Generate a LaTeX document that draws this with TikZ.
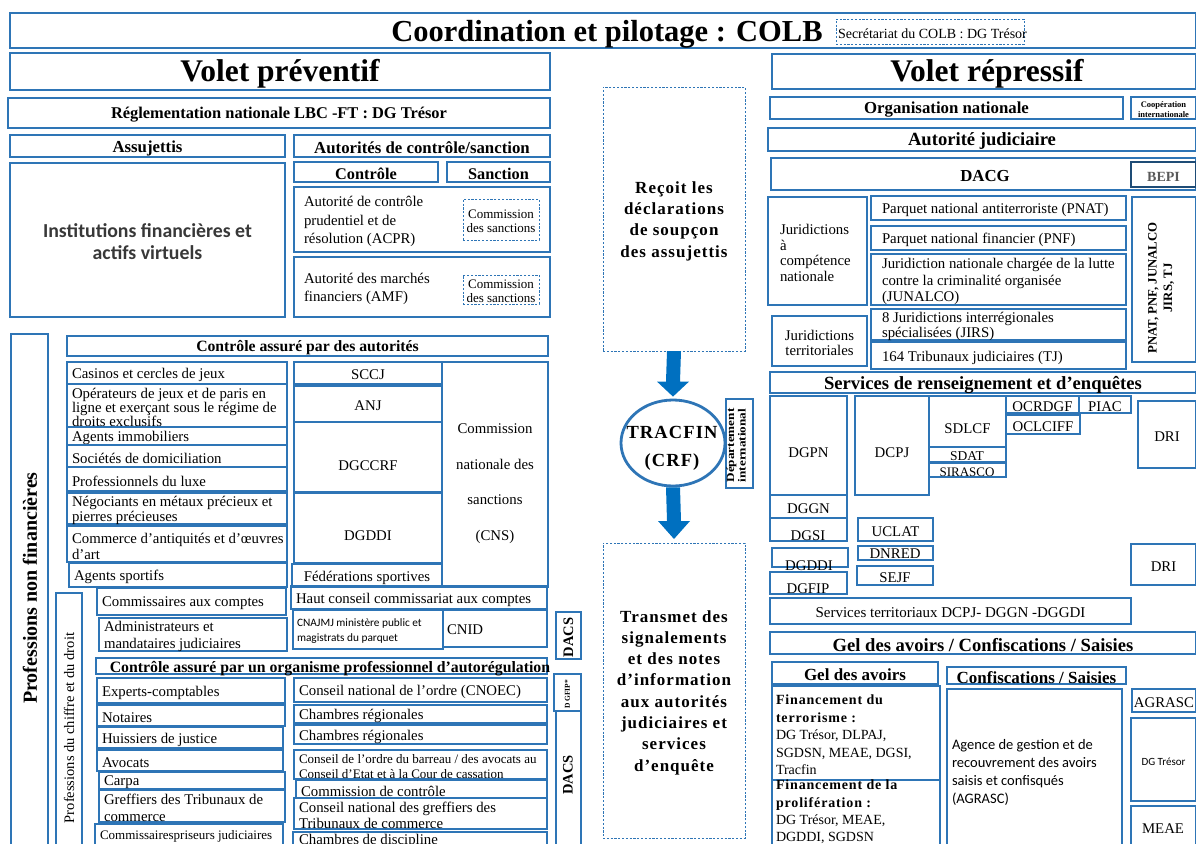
\documentclass[tikz,border=0pt]{standalone}
\usepackage{fontspec}
\setmainfont{Liberation Serif}
\newfontfamily\sprd[LetterSpace=6.0]{Liberation Serif}
\newfontfamily\calib{Carlito}
\usepackage{graphicx}
\usetikzlibrary{shapes.geometric,calc}
\definecolor{bl}{RGB}{46,117,182}
\definecolor{abl}{RGB}{0,112,192}
\newcommand\fs[2]{\fontsize{#1}{#2}\selectfont}
\newcommand\mkbox[6]{%
  \pgfmathsetmacro\bxw{#5-#3}\pgfmathsetmacro\bxh{#6-#4}%
  \pgfmathsetmacro\bxx{(#3+#5)/2}\pgfmathsetmacro\bxy{(#4+#6)/2}%
  \node[#1,minimum width=\bxw pt,minimum height=\bxh pt] (#2) at (\bxx,\bxy) {};}
\newcommand\bx[7][]{\mkbox{bxs}{#2}{#3}{#4}{#5}{#6}\node[txt,#1] (#2-t) at (#2.center) {#7};}
\newcommand\dbx[7][]{\mkbox{dbxs}{#2}{#3}{#4}{#5}{#6}\node[txt,#1] (#2-t) at (#2.center) {#7};}
\newcommand\bxl[7][]{\mkbox{bxs}{#2}{#3}{#4}{#5}{#6}\node[txt,anchor=west,align=left,#1] (#2-t) at ([xshift=5pt]#2.west) {#7};}
\tikzset{
  bxs/.style={rectangle,draw=bl,line width=1.3pt,inner sep=0pt,outer sep=0pt},
  dbxs/.style={bxs,line width=0.9pt,dash pattern=on 2.2pt off 1.6pt},
  bepis/.style={bxs,draw=bl!65!black,line width=1.8pt},
  txt/.style={inner sep=0pt,outer sep=0pt,align=center,yshift=-2pt,font=\fs{14.8}{16.5}},
  h17/.style={font=\bfseries\fs{16.8}{19}},
  h19/.style={font=\bfseries\fs{18.6}{20}},
  hv/.style={font=\bfseries\fs{31.5}{33}},
}
\begin{document}
\begin{tikzpicture}[x=1pt,y=-1pt]
\useasboundingbox (0,0) rectangle (1196,843);
\clip (0,0) rectangle (1196,843);
% ===== top
\bx{title}{10}{13}{1196}{48}{}
\node[txt,font=\bfseries\fs{30.5}{32}] (title-txt) at (607,32) {Coordination et pilotage : COLB};
\mkbox{dbxs}{secr}{836}{19}{1024}{44}
\node[txt,anchor=west,font=\fs{14}{15}] (secr-t) at ([xshift=2pt]secr.west) {Secrétariat du COLB : DG Trésor};
% ===== volet preventif
\bx[hv]{vp}{10}{53}{550}{90}{Volet préventif}
\bx[font=\bfseries\fs{16.4}{18}]{regl}{8}{98}{550}{128}{Réglementation nationale LBC -FT : DG Trésor}
\bx[h17]{assj}{10}{135}{285}{157}{Assujettis}
\bx[h17]{autc}{294}{135}{550}{157}{Autorités de contrôle/sanction}
\bx[font=\bfseries\fs{16.3}{18}]{ctrl}{294}{162}{438}{182}{Contrôle}
\bx[font=\bfseries\fs{16.3}{18}]{sanc}{447}{162}{550}{182}{Sanction}
\bx[font=\calib\bfseries\fs{19.8}{22},text=black!78]{ifin}{10}{163}{285}{317}{Institutions financières et\\actifs virtuels}
\bxl[xshift=5pt,font=\fs{14.8}{18.3}]{acpr}{294}{187}{550}{252}{Autorité de contrôle\\prudentiel et de\\résolution (ACPR)}
\dbx[font=\fs{13}{14}]{cs1}{463}{199}{539}{240}{Commission\\des sanctions}
\bxl[xshift=5pt,font=\fs{14.8}{18.3}]{amf}{294}{257}{550}{317}{Autorité des marchés\\financiers (AMF)}
\dbx[font=\fs{13}{14}]{cs2}{463}{275}{539}{304}{Commission\\des sanctions}
% professions non financieres
\mkbox{bxs}{pnfin}{11}{334}{48}{860}
\node[txt,rotate=90,font=\bfseries\fs{20}{22}] (pnfin-t) at (30,586) {Professions non financières};
\bx[font=\bfseries\fs{15.7}{17}]{cad}{67}{336}{548}{356}{Contrôle assuré par des autorités}
\bxl{casi}{67}{362}{287}{384}{Casinos et cercles de jeux}
\bxl[font=\fs{14.8}{14.3}]{oper}{67}{384}{287}{427}{Opérateurs de jeux et de paris en\\ligne et exerçant sous le régime de\\droits exclusifs}
\bxl{agim}{67}{427}{287}{445}{Agents immobiliers}
\bxl{soci}{67}{445}{287}{467}{Sociétés de domiciliation}
\bxl{plux}{67}{467}{287}{491}{Professionnels du luxe}
\bxl[font=\fs{14.8}{15}]{nego}{67}{493}{287}{524}{Négociants en métaux précieux et\\pierres précieuses}
\bxl[font=\fs{14.8}{16}]{comm}{67}{526}{287}{562}{Commerce d’antiquités et d’œuvres\\d’art}
\bxl{agsp}{69}{563}{287}{587}{Agents sportifs}
\bx{sccj}{294}{362}{442}{384}{SCCJ}
\bx{anj}{294}{386}{442}{422}{ANJ}
\bx[yshift=-7pt]{dgcc}{294}{422}{442}{492}{DGCCRF}
\bx[yshift=-6pt]{dgdd}{294}{493}{442}{563}{DGDDI}
\bx{feds}{292}{564}{442}{587}{Fédérations sportives}
\bx[font=\fs{14.8}{35.5},yshift=-7pt]{cns}{442}{362}{548}{587}{Commission\\nationale des\\sanctions\\(CNS)}
% professions du chiffre et du droit
\mkbox{bxs}{pcd}{56}{593}{82}{860}
\node[txt,rotate=90,font=\fs{14.5}{16}] (pcd-t) at (69,726) {Professions du chiffre et du droit};
\bxl{cac}{97}{588}{286}{615}{Commissaires aux comptes}
\bxl{hcc}{291}{586}{547}{609}{Haut conseil commissariat aux comptes}
\bxl[font=\fs{14.8}{17}]{adm}{99}{618}{287}{651}{Administrateurs et\\mandataires judiciaires}
\bxl[xshift=-1pt,font=\calib\fs{11.3}{15}]{cnaj}{293}{610}{443}{649}{CNAJMJ ministère public et\\magistrats du parquet}
\bxl[xshift=-1pt,yshift=1pt]{cnid}{443}{610}{547}{647}{CNID}
\mkbox{bxs}{dacs1}{556}{612}{581}{659}
\node[txt,rotate=90,font=\bfseries\fs{14.5}{16}] (dacs1-t) at (dacs1) {DACS};
\mkbox{bxs}{caop}{96}{658}{547}{674}
\node[txt,font=\bfseries\fs{15.8}{17}] (caop-t) at (330,667) {Contrôle assuré par un organisme professionnel d’autorégulation};
\mkbox{bxs}{dgfip}{554}{674}{581}{711}
\node[txt,rotate=90,font=\bfseries\fs{7.5}{8}] (dgfip-t) at (dgfip) {D GFIP*};
\mkbox{bxs}{dacs2}{556}{711}{581}{860}
\node[txt,rotate=90,font=\bfseries\fs{14.5}{16}] (dacs2-t) at (568,773) {DACS};
\bxl{expc}{97}{678}{285}{703}{Experts-comptables}
\bxl{nota}{97}{705}{285}{726}{Notaires}
\bxl{huis}{97}{727}{283}{748}{Huissiers de justice}
\bxl{avoc}{97}{750}{283}{771}{Avocats}
\bxl{carp}{99}{772}{285}{789}{Carpa}
\bxl[font=\fs{14.8}{16.5}]{gref}{99}{790}{285}{822}{Greffiers des Tribunaux de\\commerce}
\mkbox{bxs}{cpj}{95}{824}{283}{870}
\node[txt,anchor=west,font=\fs{13}{14}] (cpj-t) at (100,834) {Commissairespriseurs judiciaires};
\bxl{cnoe}{294}{678}{547}{702}{Conseil national de l’ordre (CNOEC)}
\bxl{chr1}{294}{705}{547}{723}{Chambres régionales}
\bxl{chr2}{294}{725}{547}{744}{Chambres régionales}
\bxl[font=\fs{13}{14.5}]{cob}{294}{750}{547}{779}{Conseil de l’ordre du barreau / des avocats au\\Conseil d’Etat et à la Cour de cassation}
\bxl{ccon}{296}{780}{547}{798}{Commission de contrôle}
\bxl[font=\fs{14.8}{16}]{cngr}{294}{798}{547}{829}{Conseil national des greffiers des\\Tribunaux de commerce}
\mkbox{bxs}{chdi}{293}{832}{547}{870}
\node[txt,anchor=west] (chdi-t) at (299,839) {Chambres de discipline};
% ===== middle
\dbx[font=\sprd\bfseries\fs{17}{21.3}]{recoit}{603}{87}{745}{351}{Reçoit les\\déclarations\\de soupçon\\des assujettis}
\node[ellipse,draw=bl,line width=2.8pt,minimum width=104pt,minimum height=86pt,inner sep=0pt] (trac) at (673,443) {};
\node[txt,font=\sprd\bfseries\fs{18.5}{28}] (trac-t) at (672,446.5) {TRACFIN\\(CRF)};
\mkbox{bxs}{depi}{726}{399}{753}{488}
\node[txt,rotate=90,yshift=2pt,font=\bfseries\fs{11}{11.5}] (depi-t) at (depi) {\scalebox{1.2}[1]{\begin{tabular}{@{}c@{}}Département\\international\end{tabular}}};
\dbx[font=\sprd\bfseries\fs{17}{21.3}]{trans}{603}{543}{745}{838}{Transmet des\\signalements\\et des notes\\d’information\\aux autorités\\judiciaires et\\services\\d’enquête}
\fill[abl] ($(recoit.south)+(-7,0)$) -- ($(recoit.south)+(7,0)$) -- ($(trac.north)+(7,-17)$) -- ($(trac.north)+(16,-17)$) -- ($(trac.north)+(0,-2)$) -- ($(trac.north)+(-16,-17)$) -- ($(trac.north)+(-7,-17)$) -- cycle;
\coordinate (a2tip) at ($(trans.north)+(0,-4)$);
\fill[abl] ($(trac.south)+(-7,0)$) -- ($(trac.south)+(7,0)$) -- ($(a2tip)+(7,-18)$) -- ($(a2tip)+(16,-18)$) -- (a2tip) -- ($(a2tip)+(-16,-18)$) -- ($(a2tip)+(-7,-18)$) -- cycle;
% ===== volet repressif
\bx[hv,xshift=3pt]{vr}{772}{54}{1196}{89}{Volet répressif}
\bx[h17]{orgn}{770}{97}{1123}{119}{Organisation nationale}
\bx[font=\bfseries\fs{8.5}{10}]{coop}{1131}{97}{1196}{119}{Coopération\\internationale}
\bx[h19]{autj}{768}{128}{1196}{151}{Autorité judiciaire}
\mkbox{bxs}{dacg}{771}{158}{1196}{190}
\node[txt,h17] (dacg-t) at (985,174) {DACG};
\mkbox{bepis}{bepi}{1131}{162}{1196}{187}
\node[txt,font=\bfseries\fs{14}{15},text=black!65] (bepi-t) at (bepi) {BEPI};
\bxl[xshift=7pt,font=\fs{14.8}{15.7}]{jcn}{768}{197}{867}{305}{Juridictions\\à\\compétence\\nationale}
\bxl[xshift=6pt]{pnat}{871}{196}{1126}{220}{Parquet national antiterroriste (PNAT)}
\bxl[xshift=6pt]{pnfb}{871}{226}{1126}{250}{Parquet national financier (PNF)}
\bxl[xshift=6pt,font=\fs{14.8}{16.3}]{juna}{871}{254}{1126}{305}{Juridiction nationale chargée de la lutte\\contre la criminalité organisée\\(JUNALCO)}
\bx[font=\fs{14.8}{15}]{jter}{772}{316}{867}{366}{Juridictions\\territoriales}
\bxl[xshift=6pt,font=\fs{14.8}{15.7}]{jirs}{871}{309}{1126}{340}{8 Juridictions interrégionales\\spécialisées (JIRS)}
\bxl[xshift=6pt]{tj}{871}{342}{1126}{369}{164 Tribunaux judiciaires (TJ)}
\mkbox{bxs}{pvert}{1132}{197}{1196}{362}
\node[txt,rotate=90,yshift=2pt,font=\bfseries\fs{12.8}{15.5}] (pvert-t) at (1163,286) {PNAT, PNF, JUNALCO\\JIRS, TJ};
\bx[h19]{sre}{770}{372}{1196}{393}{Services de renseignement et d’enquêtes}
\bx[yshift=-5pt]{dgpn}{770}{396}{847}{495}{DGPN}
\bx{dggn}{770}{495}{847}{518}{DGGN}
\mkbox{bxs}{dgsi}{770}{518}{847}{541}
\node[txt] (dgsi-t) at (808,534) {DGSI};
\mkbox{bxs}{dgddi}{772}{548}{848}{567}
\node[txt] (dgddi-t) at (809,564) {DGDDI};
\mkbox{bxs}{dgfp}{770}{572}{847}{594}
\node[txt] (dgfp-t) at (808,587) {DGFIP};
\bx[yshift=-5pt]{dcpj}{855}{396}{929}{495}{DCPJ}
\bx[yshift=-5pt]{sdlcf}{929}{396}{1006}{447}{SDLCF}
\mkbox{bxs}{sdat}{929}{447}{1006}{462}
\node[txt,font=\fs{13.5}{14}] (sdat-t) at (967,454.5) {SDAT};
\mkbox{bxs}{sira}{929}{463}{1006}{477}
\node[txt,font=\fs{13}{14}] (sira-t) at (967,470.5) {SIRASCO};
\bx{ocrd}{1006}{396}{1079}{413}{OCRDGF}
\bx{piac}{1079}{396}{1131}{413}{PIAC}
\bx{oclc}{1006}{415}{1080}{434}{OCLCIFF}
\bx{dri1}{1138}{401}{1196}{468}{DRI}
\bx{ucl}{858}{518}{933}{541}{UCLAT}
\mkbox{bxs}{dnre}{858}{546}{933}{560}
\node[txt] (dnre-t) at (895,552) {DNRED};
\bx{sejf}{857}{566}{933}{585}{SEJF}
\bx{dri2}{1131}{544}{1196}{585}{DRI}
\bx[font=\fs{15}{16}]{svt}{770}{598}{1131}{624}{Services territoriaux DCPJ- DGGN -DGGDI}
\bx[h19]{gel}{770}{632}{1196}{654}{Gel des avoirs / Confiscations / Saisies}
\bx[font=\bfseries\fs{17}{19}]{gela}{772}{662}{938}{684}{Gel des avoirs}
\bx[font=\bfseries\fs{17}{19}]{conf}{947}{667}{1126}{684}{Confiscations / Saisies}
\bxl[xshift=-1pt,font=\fs{14}{17.6}]{fint}{772}{686}{940}{780}{{\sprd\bfseries Financement du}\\{\sprd\bfseries terrorisme :}\\DG Trésor, DLPAJ,\\SGDSN, MEAE, DGSI,\\Tracfin}
\mkbox{bxs}{finp}{772}{780}{940}{870}
\node[txt,anchor=west,align=left,font=\fs{14}{17.3}] (finp-t) at (776,810) {{\sprd\bfseries Financement de la}\\{\sprd\bfseries prolifération :}\\DG Trésor, MEAE,\\DGDDI, SGDSN};
\mkbox{bxs}{agence}{947}{689}{1122}{870}
\node[txt,anchor=west,align=left,font=\calib\fs{14.5}{18}] (agence-t) at (952,770) {Agence de gestion et de\\recouvrement des avoirs\\saisis et confisqués\\(AGRASC)};
\bx{agra}{1132}{689}{1196}{712}{AGRASC}
\bx[font=\calib\fs{11}{12}]{dgtr}{1131}{718}{1196}{801}{DG Trésor}
\mkbox{bxs}{meae}{1131}{806}{1196}{870}
\node[txt] (meae-t) at (1163,827) {MEAE};
\end{tikzpicture}
\end{document}
